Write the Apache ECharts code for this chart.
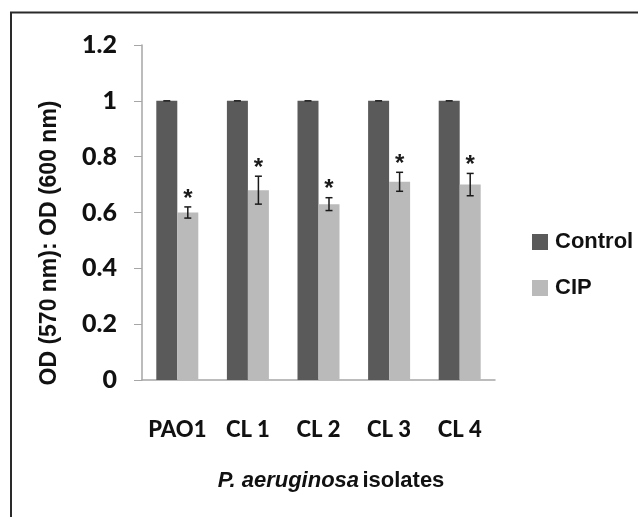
<!DOCTYPE html>
<html><head><meta charset="utf-8">
<script src="https://cdn.jsdelivr.net/npm/echarts@6/dist/echarts.min.js"></script>
<style>html,body{margin:0;padding:0;background:#fff}#c{width:638px;height:517px}</style>
</head><body><div id="c"></div>
<script>
var categories = ['PAO1', 'CL 1', 'CL 2', 'CL 3', 'CL 4'];
var controlValues = [1, 1, 1, 1, 1];
var controlErr = [0, 0, 0, 0, 0];
var cipValues = [0.60, 0.68, 0.63, 0.71, 0.70];
var cipErr = [0.02, 0.05, 0.023, 0.034, 0.04];
var cipStars = ['*', '*', '*', '*', '*'];
var yTicks = [0, 0.2, 0.4, 0.6, 0.8, 1, 1.2];

var chart = echarts.init(document.getElementById('c'));
var BW = 21;

function errItem(vals, errs, offset, stars) {
  return function (params, api) {
    var i = api.value(0);
    var v = vals[i], e = errs[i];
    var top = api.coord([i, v + e]);
    var bot = api.coord([i, v - e]);
    var x = top[0] + offset;
    var children = [];
    var st = {stroke: '#1a1a1a', lineWidth: 1.5};
    if (e > 0) {
      children.push({type: 'line', shape: {x1: x, y1: top[1], x2: x, y2: bot[1]}, style: st});
      children.push({type: 'line', shape: {x1: x - 3.5, y1: bot[1], x2: x + 3.5, y2: bot[1]}, style: st});
    }
    children.push({type: 'line', shape: {x1: x - 3.5, y1: top[1], x2: x + 3.5, y2: top[1]}, style: st});
    if (stars && stars[i]) {
      children.push({type: 'text', style: {text: stars[i], x: x, y: top[1] + 4, align: 'center', verticalAlign: 'bottom',
        font: 'bold 24px "Liberation Sans"', fill: '#1a1a1a'}});
    }
    return {type: 'group', children: children};
  };
}

chart.setOption({
  animation: false,
  backgroundColor: '#fff',
  grid: {left: 142, right: 143, top: 45, bottom: 137, containLabel: false},
  legend: {
    orient: 'vertical', left: 527, top: 226,
    itemWidth: 16, itemHeight: 16, itemGap: 24,
    icon: 'rect',
    data: ['Control', 'CIP'],
    textStyle: {fontFamily: 'Liberation Sans', fontWeight: 'bold', fontSize: 22, color: '#111', padding: [0, 0, 0, 2]}
  },
  xAxis: {
    type: 'category', data: categories,
    axisLine: {lineStyle: {color: '#a6a6a6', width: 1.5}},
    axisTick: {show: false},
    axisLabel: {interval: 0, hideOverlap: false, margin: 39, fontFamily: 'Lato', fontWeight: 900, fontSize: 22, color: '#111'}
  },
  yAxis: {
    type: 'value', min: 0, max: 1.2, interval: 0.2,
    axisLine: {show: true, lineStyle: {color: '#a6a6a6', width: 1.5}},
    axisTick: {show: true, length: 8, lineStyle: {color: '#a6a6a6'}},
    splitLine: {show: false},
    axisLabel: {margin: 25, fontFamily: 'Lato', fontWeight: 900, fontSize: 25, color: '#111',
      formatter: function (v) { return String(Math.round(v * 10) / 10); }}
  },
  graphic: [
    {type: 'rect', shape: {x: 11, y: 12.5, width: 700, height: 600}, style: {fill: 'none', stroke: '#2a2a2a', lineWidth: 2}, silent: true},
    {type: 'text', x: 50, y: 243, rotation: Math.PI / 2,
      style: {text: 'OD (570 nm): OD (600 nm)', align: 'center', verticalAlign: 'middle',
        font: 'bold 23px "Liberation Sans"', fill: '#111'}},
    {type: 'text', x: 331, y: 481,
      style: {text: '{i|P. aeruginosa} {n|isolates}', align: 'center', verticalAlign: 'middle',
        rich: {i: {fontFamily: 'Liberation Sans', fontStyle: 'italic', fontWeight: 'bold', fontSize: 22, fill: '#111'},
               n: {fontFamily: 'Liberation Sans', fontWeight: 'bold', fontSize: 22, fill: '#111'}}}}
  ],
  series: [
    {name: 'Control', type: 'bar', data: controlValues, barWidth: BW, barGap: '0%',
      itemStyle: {color: '#5a5a5a'}},
    {name: 'CIP', type: 'bar', data: cipValues, barWidth: BW,
      itemStyle: {color: '#bababa'}},
    {type: 'custom', data: categories.map(function (c, i) { return [i]; }),
      renderItem: errItem(controlValues, controlErr, -BW / 2, null), z: 5},
    {type: 'custom', data: categories.map(function (c, i) { return [i]; }),
      renderItem: errItem(cipValues, cipErr, BW / 2, cipStars), z: 5}
  ]
});
</script>
</body></html>
